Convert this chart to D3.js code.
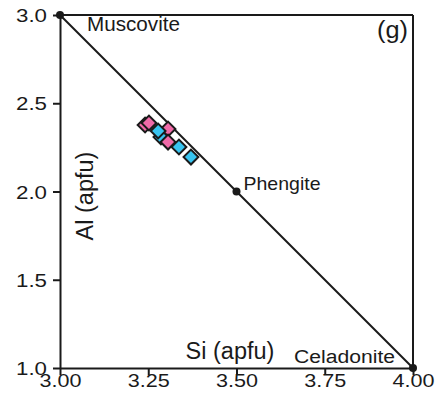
<!DOCTYPE html>
<html><head><meta charset="utf-8">
<script src="https://cdn.jsdelivr.net/npm/d3@7"></script>
<style>body{margin:0;background:#fff}svg{display:block}text{font-family:"Liberation Sans",Arial,sans-serif;fill:#1a1a1a}</style>
</head><body>
<script>
// Data
const xTicks = [3.00, 3.25, 3.50, 3.75, 4.00];
const xTickLabels = ["3.00", "3.25", "3.50", "3.75", "4.00"];
const yTicks = [1.0, 1.5, 2.0, 2.5, 3.0];
const yTickLabels = ["1.0", "1.5", "2.0", "2.5", "3.0"];
const endMemberNames = ["Muscovite", "Phengite", "Celadonite"];
const endMemberSi = [3.0, 3.5, 4.0];
const endMemberAl = [3.0, 2.0, 1.0];
const pointSi = [3.241, 3.252, 3.306, 3.286, 3.278, 3.306, 3.337, 3.371];
const pointAl = [2.377, 2.388, 2.354, 2.309, 2.343, 2.280, 2.252, 2.195];
const pointGroup = ["pink", "pink", "pink", "blue", "blue", "pink", "blue", "blue"];
const panelLabel = "(g)";
const xTitle = "Si (apfu)";
const yTitle = "Al (apfu)";

const W = 444, H = 408;
const L = 60, R = 413, T = 15, B = 368;
const ink = "#1a1a1a";
const colors = {pink: "#f06aa8", blue: "#38c4f0"};

const svg = d3.select("body").append("svg").attr("width", W).attr("height", H);
const x = d3.scaleLinear().domain([3, 4]).range([L, R]);
const y = d3.scaleLinear().domain([1, 3]).range([B, T]);

// frame top/right
svg.append("line").attr("x1", L).attr("x2", R).attr("y1", T).attr("y2", T).attr("stroke", ink).attr("stroke-width", 2);
svg.append("line").attr("x1", R).attr("x2", R).attr("y1", T).attr("y2", B).attr("stroke", ink).attr("stroke-width", 2);

// axes
const xAxis = svg.append("g").attr("transform", `translate(0,${B})`)
  .call(d3.axisBottom(x).tickValues(xTicks).tickSize(7).tickSizeOuter(0).tickFormat((d, i) => xTickLabels[i]));
const yAxis = svg.append("g").attr("transform", `translate(${L},0)`)
  .call(d3.axisLeft(y).tickValues(yTicks).tickSize(7).tickSizeOuter(0).tickFormat((d, i) => yTickLabels[i]));
[xAxis, yAxis].forEach(a => {
  a.select(".domain").attr("stroke", ink).attr("stroke-width", 2);
  a.selectAll(".tick line").attr("stroke", ink).attr("stroke-width", 2);
  a.selectAll(".tick text").attr("fill", ink).style("font-size", "18.5px")
    .attr("font-family", null).attr("lengthAdjust", "spacingAndGlyphs");
});
xAxis.selectAll(".tick text").attr("dy", null).attr("y", 19).attr("textLength", 42);
yAxis.selectAll(".tick text").attr("x", -13).attr("dy", "0.36em").attr("textLength", 31);

// diagonal
svg.append("line").attr("x1", x(endMemberSi[0])).attr("y1", y(endMemberAl[0]))
  .attr("x2", x(endMemberSi[2])).attr("y2", y(endMemberAl[2])).attr("stroke", ink).attr("stroke-width", 2);

// end member dots
svg.selectAll("circle.em").data(endMemberSi).enter().append("circle")
  .attr("cx", d => x(d)).attr("cy", (d, i) => y(endMemberAl[i])).attr("r", 4).attr("fill", ink);

// end member labels
const emPos = [
  {dx: 27, dy: 16, len: 93, fs: 19.5},
  {dx: 7, dy: -1.5, len: 77, fs: 18.5},
  {dx: -119, dy: -5, len: 101, fs: 18}
];
svg.selectAll("text.em").data(endMemberNames).enter().append("text")
  .attr("x", (d, i) => x(endMemberSi[i]) + emPos[i].dx)
  .attr("y", (d, i) => y(endMemberAl[i]) + emPos[i].dy)
  .style("font-size", (d, i) => emPos[i].fs + "px")
  .attr("textLength", (d, i) => emPos[i].len).attr("lengthAdjust", "spacingAndGlyphs")
  .text(d => d);

// data points
const sym = d3.symbol().type(d3.symbolSquare).size(110);
svg.selectAll("path.pt").data(pointSi).enter().append("path")
  .attr("d", sym)
  .attr("transform", (d, i) => `translate(${x(d)},${y(pointAl[i])}) rotate(45)`)
  .attr("fill", (d, i) => colors[pointGroup[i]])
  .attr("stroke", ink).attr("stroke-width", 2);

// titles
svg.append("text").attr("x", 230).attr("y", 359).attr("text-anchor", "middle")
  .style("font-size", "23.5px").text(xTitle);
svg.append("text").attr("transform", "translate(93,196) rotate(-90)").attr("text-anchor", "middle")
  .style("font-size", "23.5px").text(yTitle);
svg.append("text").attr("x", 408).attr("y", 38).attr("text-anchor", "end")
  .style("font-size", "23px").attr("textLength", 31).attr("lengthAdjust", "spacingAndGlyphs").text(panelLabel);
</script>
</body></html>
